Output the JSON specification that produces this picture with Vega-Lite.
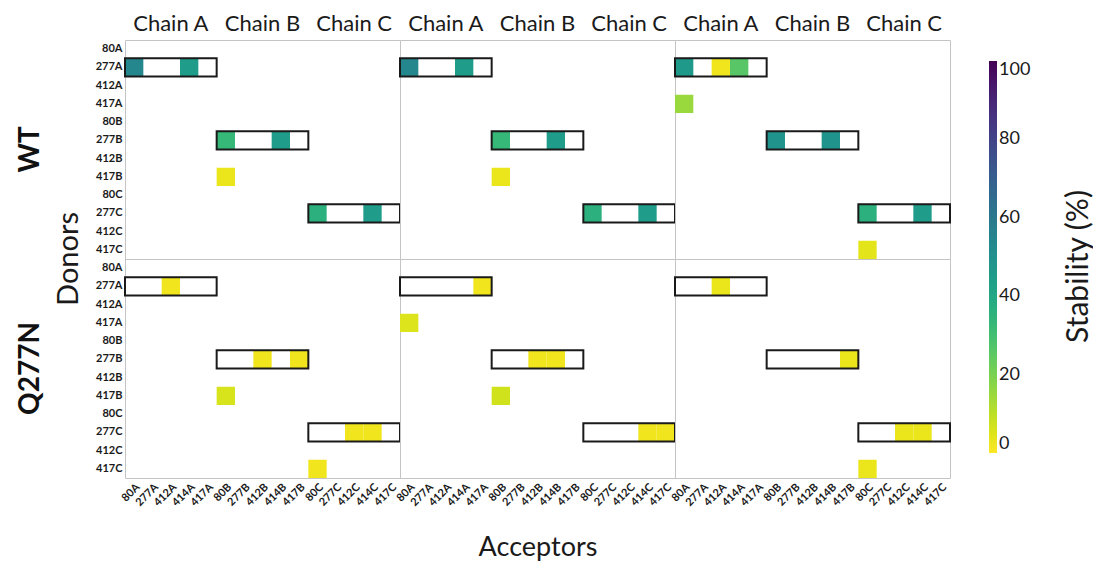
{
  "$schema": "https://vega.github.io/schema/vega-lite/v6.json",
  "padding": {"left": 17, "top": 12, "right": 0, "bottom": 0},
  "bounds": "flush",
  "title": {"text": "Stability (%)", "orient": "right", "angle": 270, "anchor": "middle", "fontSize": 30, "fontWeight": "normal", "color": "#1a1a1a", "offset": -18, "dx": 20},
  "config": {
    "font": "Lato",
    "view": {"stroke": "#c4c4c4", "strokeWidth": 1},
    "axis": {"labelColor": "#1a1a1a", "labelFont": "Lato"}
  },
  "data": {
    "values": [
      {"k": "c", "v": "WT", "p": 1, "d": "277A", "a": "80A", "s": 54},
      {"k": "c", "v": "WT", "p": 1, "d": "277A", "a": "414A", "s": 45},
      {"k": "c", "v": "WT", "p": 1, "d": "277B", "a": "80B", "s": 33},
      {"k": "c", "v": "WT", "p": 1, "d": "277B", "a": "414B", "s": 45},
      {"k": "c", "v": "WT", "p": 1, "d": "417B", "a": "80B", "s": 3},
      {"k": "c", "v": "WT", "p": 1, "d": "277C", "a": "80C", "s": 36},
      {"k": "c", "v": "WT", "p": 1, "d": "277C", "a": "414C", "s": 45},
      {"k": "c", "v": "WT", "p": 2, "d": "277A", "a": "80A", "s": 54},
      {"k": "c", "v": "WT", "p": 2, "d": "277A", "a": "414A", "s": 45},
      {"k": "c", "v": "WT", "p": 2, "d": "277B", "a": "80B", "s": 33},
      {"k": "c", "v": "WT", "p": 2, "d": "277B", "a": "414B", "s": 45},
      {"k": "c", "v": "WT", "p": 2, "d": "417B", "a": "80B", "s": 3},
      {"k": "c", "v": "WT", "p": 2, "d": "277C", "a": "80C", "s": 36},
      {"k": "c", "v": "WT", "p": 2, "d": "277C", "a": "414C", "s": 45},
      {"k": "c", "v": "WT", "p": 3, "d": "277A", "a": "80A", "s": 46},
      {"k": "c", "v": "WT", "p": 3, "d": "277A", "a": "412A", "s": 2},
      {"k": "c", "v": "WT", "p": 3, "d": "277A", "a": "414A", "s": 26},
      {"k": "c", "v": "WT", "p": 3, "d": "417A", "a": "80A", "s": 15},
      {"k": "c", "v": "WT", "p": 3, "d": "277B", "a": "80B", "s": 49},
      {"k": "c", "v": "WT", "p": 3, "d": "277B", "a": "414B", "s": 49},
      {"k": "c", "v": "WT", "p": 3, "d": "277C", "a": "80C", "s": 36},
      {"k": "c", "v": "WT", "p": 3, "d": "277C", "a": "414C", "s": 45},
      {"k": "c", "v": "WT", "p": 3, "d": "417C", "a": "80C", "s": 4},
      {"k": "c", "v": "Q277N", "p": 1, "d": "277A", "a": "412A", "s": 2},
      {"k": "c", "v": "Q277N", "p": 1, "d": "277B", "a": "412B", "s": 2},
      {"k": "c", "v": "Q277N", "p": 1, "d": "277B", "a": "417B", "s": 2},
      {"k": "c", "v": "Q277N", "p": 1, "d": "417B", "a": "80B", "s": 6},
      {"k": "c", "v": "Q277N", "p": 1, "d": "277C", "a": "412C", "s": 2},
      {"k": "c", "v": "Q277N", "p": 1, "d": "277C", "a": "414C", "s": 2},
      {"k": "c", "v": "Q277N", "p": 1, "d": "417C", "a": "80C", "s": 2},
      {"k": "c", "v": "Q277N", "p": 2, "d": "277A", "a": "417A", "s": 2},
      {"k": "c", "v": "Q277N", "p": 2, "d": "417A", "a": "80A", "s": 5},
      {"k": "c", "v": "Q277N", "p": 2, "d": "277B", "a": "412B", "s": 2},
      {"k": "c", "v": "Q277N", "p": 2, "d": "277B", "a": "414B", "s": 2},
      {"k": "c", "v": "Q277N", "p": 2, "d": "417B", "a": "80B", "s": 7},
      {"k": "c", "v": "Q277N", "p": 2, "d": "277C", "a": "414C", "s": 2},
      {"k": "c", "v": "Q277N", "p": 2, "d": "277C", "a": "417C", "s": 2},
      {"k": "c", "v": "Q277N", "p": 3, "d": "277A", "a": "412A", "s": 3},
      {"k": "c", "v": "Q277N", "p": 3, "d": "277B", "a": "417B", "s": 3},
      {"k": "c", "v": "Q277N", "p": 3, "d": "277C", "a": "412C", "s": 3},
      {"k": "c", "v": "Q277N", "p": 3, "d": "277C", "a": "414C", "s": 3},
      {"k": "c", "v": "Q277N", "p": 3, "d": "417C", "a": "80C", "s": 3},
      {"k": "b", "v": "WT", "p": 1, "d": "277A", "a": "412A"},
      {"k": "b", "v": "WT", "p": 1, "d": "277B", "a": "412B"},
      {"k": "b", "v": "WT", "p": 1, "d": "277C", "a": "412C"},
      {"k": "b", "v": "WT", "p": 2, "d": "277A", "a": "412A"},
      {"k": "b", "v": "WT", "p": 2, "d": "277B", "a": "412B"},
      {"k": "b", "v": "WT", "p": 2, "d": "277C", "a": "412C"},
      {"k": "b", "v": "WT", "p": 3, "d": "277A", "a": "412A"},
      {"k": "b", "v": "WT", "p": 3, "d": "277B", "a": "412B"},
      {"k": "b", "v": "WT", "p": 3, "d": "277C", "a": "412C"},
      {"k": "b", "v": "Q277N", "p": 1, "d": "277A", "a": "412A"},
      {"k": "b", "v": "Q277N", "p": 1, "d": "277B", "a": "412B"},
      {"k": "b", "v": "Q277N", "p": 1, "d": "277C", "a": "412C"},
      {"k": "b", "v": "Q277N", "p": 2, "d": "277A", "a": "412A"},
      {"k": "b", "v": "Q277N", "p": 2, "d": "277B", "a": "412B"},
      {"k": "b", "v": "Q277N", "p": 2, "d": "277C", "a": "412C"},
      {"k": "b", "v": "Q277N", "p": 3, "d": "277A", "a": "412A"},
      {"k": "b", "v": "Q277N", "p": 3, "d": "277B", "a": "412B"},
      {"k": "b", "v": "Q277N", "p": 3, "d": "277C", "a": "412C"}
    ]
  },
  "spacing": {"row": 0, "column": 0},
  "facet": {
    "row": {
      "field": "v", "type": "nominal", "sort": ["WT", "Q277N"],
      "header": {
        "title": "Donors", "titleOrient": "left", "titleFontSize": 29, "titleFontWeight": "normal",
        "titleColor": "#1a1a1a", "titleAngle": -90, "titlePadding": -106,
        "labelOrient": "left", "labelAngle": -90, "labelFontSize": 28, "labelFontWeight": "bold",
        "labelColor": "#111", "labelPadding": 36
      }
    },
    "column": {
      "field": "p", "type": "ordinal",
      "header": {
        "labels": false, "title": "Acceptors", "titleOrient": "bottom",
        "titleFontSize": 27, "titleFontWeight": "normal", "titleColor": "#1a1a1a", "titlePadding": 17
      }
    }
  },
  "spec": {
    "width": 275,
    "height": 219,
    "layer": [
      {
        "transform": [{"filter": "datum.k == 'c'"}],
        "mark": {"type": "rect"},
        "encoding": {
          "x": {
            "field": "a", "type": "ordinal",
            "scale": {"domain": ["80A", "277A", "412A", "414A", "417A", "80B", "277B", "412B", "414B", "417B", "80C", "277C", "412C", "414C", "417C"], "paddingInner": 0, "paddingOuter": 0},
            "axis": {"orient": "bottom", "title": null, "labelAngle": -45, "labelFontSize": 11, "labelFontWeight": "bold", "ticks": false, "domain": false, "labelPadding": 3}
          },
          "y": {
            "field": "d", "type": "ordinal",
            "scale": {"domain": ["80A", "277A", "412A", "417A", "80B", "277B", "412B", "417B", "80C", "277C", "412C", "417C"], "paddingInner": 0, "paddingOuter": 0},
            "axis": {"title": null, "labelFontSize": 11, "labelFontWeight": "bold", "ticks": false, "domain": false, "labelPadding": 3}
          },
          "color": {
            "field": "s", "type": "quantitative",
            "scale": {"scheme": "viridis", "reverse": true, "domain": [0, 100]},
            "legend": {
              "title": null, "orient": "right", "offset": 16, "padding": 21,
              "gradientLength": 392, "gradientThickness": 8, "values": [0, 20, 40, 60, 80, 100],
              "labelFontSize": 18, "labelColor": "#1a1a1a"
            }
          }
        }
      },
      {
        "transform": [{"filter": "datum.k == 'b'"}],
        "mark": {"type": "rect", "width": {"band": 5}, "fill": "transparent", "stroke": "#1a1a1a", "strokeWidth": 2},
        "encoding": {
          "x": {
            "field": "a", "type": "ordinal",
            "axis": {"orient": "top", "title": null, "labelAngle": 0, "labelFontSize": 22, "labelColor": "#1a1a1a",
              "ticks": false, "domain": false, "labelOverlap": false, "labelBound": false, "labelFlush": false, "labelPadding": 5,
              "labelExpr": "datum.value == '412A' ? 'Chain A' : datum.value == '412B' ? 'Chain B' : datum.value == '412C' ? 'Chain C' : ''"}
          },
          "y": {"field": "d", "type": "ordinal"}
        }
      }
    ]
  }
}
